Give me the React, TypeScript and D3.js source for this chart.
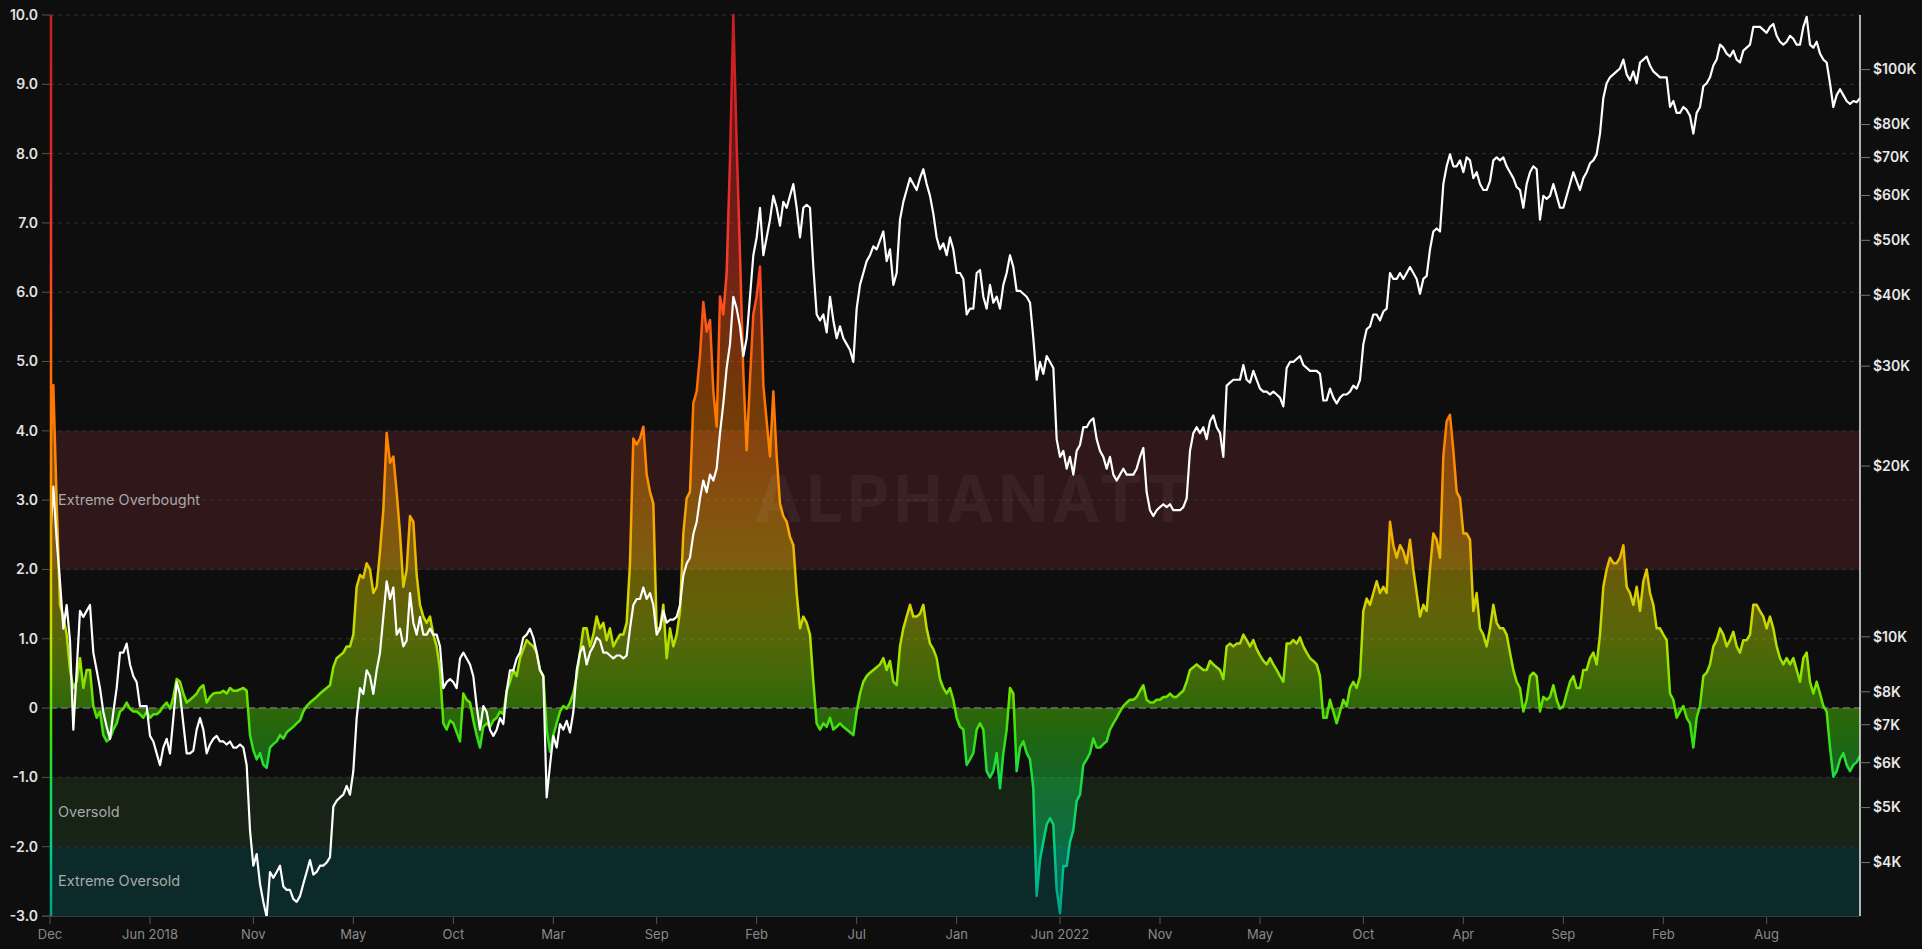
import React from 'react';
import * as d3 from 'd3';

// ---- Data (sampled at equal spacing along the category axis) ----
const oscillator: number[] = [
  3.54, 4.66, 2.95, 1.49, 1.32, 1.06, 0.55, 0.29, 0.38, 0.72,
  0.29, 0.55, 0.55, 0.03, -0.14, -0.05, -0.39, -0.48, -0.44, -0.31,
  -0.22, -0.05, -0.01, 0.08, -0.01, -0.05, -0.05, -0.09, -0.14, -0.05,
  -0.14, -0.09, -0.09, -0.05, 0.03, 0.08, -0.01, 0.16, 0.42, 0.38,
  0.21, 0.08, 0.12, 0.16, 0.21, 0.29, 0.33, 0.08, 0.16, 0.21,
  0.22, 0.22, 0.25, 0.21, 0.29, 0.25, 0.25, 0.27, 0.29, 0.25,
  -0.39, -0.61, -0.74, -0.65, -0.82, -0.86, -0.57, -0.52, -0.48, -0.39,
  -0.44, -0.35, -0.31, -0.27, -0.22, -0.18, -0.05, 0.03, 0.08, 0.12,
  0.16, 0.21, 0.25, 0.29, 0.33, 0.59, 0.72, 0.76, 0.80, 0.89,
  0.89, 1.06, 1.75, 1.92, 1.88, 2.09, 2.00, 1.66, 1.75, 2.26,
  2.86, 3.97, 3.54, 3.63, 3.12, 2.52, 1.75, 2.00, 2.77, 2.69,
  1.92, 1.49, 1.32, 1.23, 1.32, 1.06, 0.89, 0.55, -0.22, -0.31,
  -0.18, -0.22, -0.35, -0.48, 0.21, 0.12, 0.08, -0.18, -0.39, -0.57,
  -0.27, -0.22, -0.27, -0.18, -0.14,
  -0.05, -0.09, 0.25, 0.38, 0.55, 0.46, 0.72, 0.85, 0.98, 0.93,
  0.89, 0.80, 0.55, 0.46, -0.31, -0.63, -0.39, -0.22, -0.05, 0.03,
  -0.01, 0.08, 0.21, 0.46, 0.80, 1.15, 1.15, 0.89, 1.06, 1.32,
  1.15, 1.23, 0.98, 1.15, 0.89, 0.98, 1.06, 1.06, 1.23, 2.09,
  3.89, 3.80, 3.89, 4.06, 3.37, 3.12, 2.95, 1.15, 1.15, 1.49,
  0.72, 1.15, 0.89, 1.06, 1.40, 2.52, 3.03, 3.12, 4.40, 4.57,
  5.09, 5.86, 5.43, 5.60, 4.57, 4.06, 5.94, 5.68, 6.28, 7.91,
  10.0, 8.12, 6.54, 4.83, 3.72, 4.74, 5.68, 5.94, 6.37, 4.66,
  4.14, 3.63, 4.57, 3.63, 2.95, 2.77, 2.69, 2.47, 2.35, 1.66,
  1.15, 1.32, 1.23, 1.06, 0.38, -0.22, -0.31, -0.22, -0.27, -0.14,
  -0.31, -0.27, -0.22, -0.27, -0.31, -0.35, -0.39, -0.05, 0.21, 0.38,
  0.46, 0.51, 0.55, 0.59, 0.63, 0.72, 0.55, 0.68, 0.38, 0.33,
  0.89, 1.15, 1.32, 1.49, 1.32, 1.32, 1.36, 1.49, 1.15, 0.93,
  0.85, 0.72, 0.42, 0.29, 0.21, 0.29, 0.12, -0.14,
  -0.27, -0.31, -0.82, -0.74, -0.65, -0.31, -0.22, -0.31, -0.91, -1.00,
  -0.91, -0.65, -1.16, -0.65, -0.31, 0.29, 0.21, -0.91, -0.57, -0.48,
  -0.65, -0.74, -1.16, -2.71, -2.19, -1.93, -1.68, -1.59, -1.68, -2.62,
  -2.96, -2.28, -2.28, -1.93, -1.76, -1.34, -1.25, -0.82, -0.74, -0.65,
  -0.44, -0.57, -0.57, -0.52, -0.48, -0.31, -0.22, -0.14, -0.05, 0.03,
  0.08, 0.12, 0.12, 0.16, 0.25, 0.33, 0.12, 0.08, 0.08, 0.12,
  0.12, 0.16, 0.16, 0.21, 0.16, 0.16, 0.21, 0.25, 0.38, 0.55,
  0.59, 0.63, 0.59, 0.55, 0.55, 0.68, 0.63, 0.59, 0.55, 0.42,
  0.89, 0.93, 0.89, 0.93, 0.93, 1.06, 0.98, 0.89, 0.98, 0.85,
  0.76, 0.68, 0.63, 0.72, 0.63, 0.55, 0.46, 0.38, 0.93, 0.93,
  0.98, 0.93, 1.02, 0.89, 0.80, 0.72, 0.68, 0.63, 0.46, -0.14,
  -0.14, 0.12, -0.05, -0.22, -0.05, 0.12, 0.03, 0.29, 0.38, 0.29,
  0.46, 1.40, 1.58, 1.49, 1.66, 1.83, 1.66, 1.75, 1.66, 2.69,
  2.35, 2.17, 2.35, 2.26, 2.09, 2.43, 2.00, 1.66,
  1.32, 1.49, 1.40, 2.00, 2.52, 2.43, 2.17, 3.63, 4.14, 4.23,
  3.72, 3.12, 3.03, 2.52, 2.52, 2.43, 1.40, 1.66, 1.15, 1.06,
  0.89, 1.15, 1.49, 1.23, 1.15, 1.15, 1.06, 0.80, 0.55, 0.38,
  0.29, -0.05, 0.12, 0.46, 0.51, 0.46, -0.05, 0.16, 0.12, 0.16,
  0.33, 0.12, -0.01, 0.03, 0.21, 0.38, 0.46, 0.29, 0.29, 0.55,
  0.55, 0.72, 0.80, 0.63, 1.06, 1.75, 2.00, 2.17, 2.09, 2.09,
  2.17, 2.35, 1.75, 1.66, 1.49, 1.75, 1.40, 1.83, 2.00, 1.66,
  1.49, 1.15, 1.15, 1.06, 0.98, 0.21, 0.12, -0.14, -0.05, 0.03,
  -0.14, -0.22, -0.57, -0.14, 0.03, 0.46, 0.51, 0.63, 0.89, 0.98,
  1.15, 1.06, 0.89, 0.98, 1.10, 0.89, 0.80, 0.98, 0.98, 1.06,
  1.49, 1.49, 1.40, 1.32, 1.15, 1.32, 1.15, 0.89, 0.72, 0.63,
  0.72, 0.63, 0.72, 0.55, 0.38, 0.72, 0.80, 0.38, 0.21, 0.38,
  0.21, 0.03, -0.05, -0.57, -0.99, -0.91, -0.74, -0.65, -0.82, -0.91,
  -0.82, -0.78, -0.69,
];

const btcPrice: number[] = [
  14820, 18410, 14820, 12520, 10340, 11380, 9850, 6860, 8730, 11110,
  10840, 11110, 11380, 9380, 8730, 8120, 7370, 6940, 6610, 7370,
  8120, 9380, 9380, 9730, 8940, 8520, 8320, 7550, 7550, 7550,
  6690, 6540, 6230, 5940, 6380, 6610, 6230, 7190, 8320, 7930,
  7020, 6230, 6230, 6300, 6860, 7190, 6860, 6230, 6460, 6610,
  6690, 6540, 6540, 6460, 6540, 6380, 6380, 6460, 6380, 5940,
  4560, 3950, 4140, 3670, 3410, 3210, 3850, 3760, 3850, 3950,
  3630, 3580, 3580, 3450, 3410, 3490, 3670, 3850, 4040, 3810,
  3850, 3950, 3950, 4000, 4090, 5020, 5140, 5210, 5270, 5460,
  5270, 5800, 7190, 8120, 7930, 8730, 8520, 7930, 8730, 9380,
  10840, 12520, 11660, 12220, 10090, 10340, 9620, 9850, 11940, 10590,
  10090, 10840, 10090, 10090, 10340, 10090, 10090, 9620, 8120, 8320,
  8420, 8320, 8120, 9160, 9380, 9160, 8940, 8520, 7550, 6860,
  7550, 7370, 6860, 6690, 6860,
  7190, 7020, 8020, 8730, 8730, 9160, 9380, 9970, 10090, 10340,
  9970, 9380, 8730, 8520, 5210, 5940, 6690, 6380, 7020, 6860,
  7110, 6780, 7370, 8730, 9380, 9620, 8940, 9380, 9620, 9970,
  9850, 9380, 9380, 9270, 9160, 9270, 9270, 9160, 9270, 10340,
  11380, 11660, 11660, 12220, 11660, 11940, 11380, 10090, 10340, 11110,
  10590, 10720, 10720, 10840, 11380, 12830, 13460, 13790, 15180, 15940,
  17550, 18860, 17980, 19320, 18860, 19790, 22860, 25790, 29790, 32810,
  39770, 37900, 35260, 31260, 33610, 39770, 47070, 50590, 57070, 47070,
  50590, 54390, 59880, 57070, 53090, 58450, 57070, 59880, 62830, 57070,
  50590, 57070, 57760, 57070, 44860, 37000, 36120, 37000, 34420, 39770,
  36120, 33610, 35260, 33610, 32810, 32030, 30520, 37900, 41730, 43790,
  45950, 47070, 48790, 48210, 49990, 51830, 45950, 48210, 41730, 43790,
  54390, 58450, 61330, 64360, 62830, 61330, 64360, 66730, 62830, 59880,
  55710, 50590, 48210, 49390, 47070, 50590, 48210, 43790,
  43790, 42750, 37000, 37900, 37900, 43790, 44330, 39770, 37900, 41730,
  38820, 39770, 37900, 41730, 43790, 47070, 44860, 40740, 40740, 40250,
  39770, 38820, 33610, 28390, 30520, 29080, 31260, 30520, 29790, 22310,
  20760, 21270, 19790, 20760, 19320, 21270, 21790, 23420, 23420, 23990,
  24280, 22310, 21270, 20760, 19790, 20760, 19320, 18860, 19320, 19790,
  19320, 19320, 19320, 19790, 20760, 21530, 17980, 16720, 16330, 16720,
  16930, 17130, 16930, 17130, 16720, 16720, 16720, 16930, 17550, 21270,
  22860, 23420, 22860, 23420, 22310, 23990, 24570, 23420, 22860, 20760,
  27720, 28060, 28390, 28390, 28390, 30150, 28390, 28060, 29440, 28390,
  27390, 27060, 27060, 26740, 27060, 26740, 26410, 25480, 29790, 30520,
  30520, 30890, 31260, 30150, 29790, 29440, 29440, 29440, 29080, 26100,
  26100, 27390, 26410, 25790, 26410, 26740, 26740, 27060, 27720, 27390,
  28390, 32810, 34850, 35260, 37000, 37000, 36120, 37450, 37900, 43790,
  42750, 42750, 43790, 42750, 43790, 44860, 43790, 42750,
  40250, 42750, 43270, 48210, 51830, 52460, 51830, 62830, 67530, 70870,
  67530, 67530, 69180, 65930, 70020, 69180, 64360, 65930, 62830, 61330,
  61330, 63590, 69180, 70020, 69180, 70020, 67530, 65930, 64360, 62080,
  61330, 57070, 62830, 65930, 67530, 66730, 54390, 59880, 59170, 59880,
  62830, 59880, 57070, 57070, 59880, 62830, 65930, 63590, 61330, 64360,
  65930, 68360, 69180, 70870, 77100, 89080, 94590, 96900, 98080, 99250,
  100450, 104150, 98080, 95750, 99250, 94590, 102910, 104150, 105430, 101670,
  99250, 98080, 96900, 96900, 96900, 85910, 88010, 83870, 83870, 85910,
  84890, 82870, 77100, 83870, 85910, 93470, 94590, 96900, 101670, 104150,
  110640, 109300, 106700, 105430, 108000, 104150, 102910, 108000, 109300, 110640,
  118920, 118920, 118920, 117490, 116100, 118920, 120340, 114690, 111960, 110640,
  111960, 114690, 113330, 110640, 110640, 118920, 123870, 110640, 109300, 111960,
  106700, 104150, 102910, 94590, 85910, 90150, 92350, 90150, 88010, 86970,
  88010, 87590, 89080,
];

const xTickIndex: number[] = [0, 30, 61, 91, 121, 151, 182, 212, 242, 272, 303, 333, 363, 394, 424, 454, 484, 515];
const xTickLabels: string[] = ['Dec', 'Jun 2018', 'Nov', 'May', 'Oct', 'Mar', 'Sep', 'Feb', 'Jul', 'Jan', 'Jun 2022', 'Nov', 'May', 'Oct', 'Apr', 'Sep', 'Feb', 'Aug'];
const yTicks: number[] = [10, 9, 8, 7, 6, 5, 4, 3, 2, 1, 0, -1, -2, -3];
const priceTicks: number[] = [4000, 5000, 6000, 7000, 8000, 10000, 20000, 30000, 40000, 50000, 60000, 70000, 80000, 100000];
const priceTickLabels: string[] = ['$4K', '$5K', '$6K', '$7K', '$8K', '$10K', '$20K', '$30K', '$40K', '$50K', '$60K', '$70K', '$80K', '$100K'];
const bandFrom: number[] = [4, -1, -2];
const bandTo: number[] = [2, -2, -3];
const bandLabels: string[] = ['Extreme Overbought', 'Oversold', 'Extreme Oversold'];
const bandColors: string[] = ['#301719', '#162315', '#0c2a2a'];
const oscDomain: [number, number] = [-3, 10];
const priceDomain: [number, number] = [3220, 124800];
const gradientValues: number[] = [10, 8, 6.5, 5.5, 4.5, 3.5, 2.5, 1.5, 1, 0.5, 0, -0.5, -1, -2, -3];
const gradientColors: string[] = ['#c41f1f', '#e02626', '#fb3a28', '#ff5a14', '#ff7300', '#ff8c00', '#f2b000', '#d6d400', '#b8e000', '#8ee600', '#5ae400', '#33e01a', '#1cdc48', '#00cf86', '#00a08a'];

const W = 1922;
const H = 949;
const left = 50;
const right = 1860;
const top = 15;
const bottom = 916;
const FONT = 'Inter, "Noto Sans", sans-serif';

export default function App() {
  const n = oscillator.length;
  const x = d3.scaleLinear().domain([0, n - 1]).range([left, right]);
  const y = d3.scaleLinear().domain(oscDomain).range([bottom, top]);
  const yp = d3.scaleLog().domain(priceDomain).range([bottom, top]);

  const line = d3.line<number>().x((_, i) => x(i)).y((d) => y(d));
  const area = d3.area<number>().x((_, i) => x(i)).y0(y(0)).y1((d) => y(d));
  const priceLine = d3.line<number>().x((_, i) => x(i)).y((d) => yp(d));

  const stopOffset = (v: number) => (oscDomain[1] - v) / (oscDomain[1] - oscDomain[0]);

  return (
    <div style={{ position: 'fixed', left: 0, top: 0, width: W, height: H, background: '#0e0e0e' }}>
      <svg width={W} height={H} style={{ display: 'block', fontFamily: FONT }}>
        <defs>
          <linearGradient id="oscGrad" gradientUnits="userSpaceOnUse" x1={0} x2={0} y1={y(oscDomain[1])} y2={y(oscDomain[0])}>
            {gradientValues.map((v, i) => (
              <stop key={i} offset={stopOffset(v)} stopColor={gradientColors[i]} />
            ))}
          </linearGradient>
          <clipPath id="plotClip">
            <rect x={left} y={top - 2} width={right - left} height={bottom - top + 2} />
          </clipPath>
        </defs>

        <rect x={0} y={0} width={W} height={H} fill="#0e0e0e" />

        {/* bands */}
        {bandLabels.map((lab, i) => (
          <rect key={lab} x={left} y={y(bandFrom[i])} width={right - left} height={y(bandTo[i]) - y(bandFrom[i])} fill={bandColors[i]} />
        ))}

        {/* grid */}
        {yTicks.filter((v) => v !== 0 && v !== oscDomain[0]).map((v) => (
          <line key={v} x1={left} x2={right} y1={y(v)} y2={y(v)} stroke="#333" strokeWidth={1} strokeDasharray="4,4" />
        ))}

        {/* band labels */}
        {bandLabels.map((lab, i) => (
          <text key={lab} x={left + 8} y={y((bandFrom[i] + bandTo[i]) / 2)} dy="0.35em" fill="#a9a9a9" fontSize={14.5}>
            {lab}
          </text>
        ))}

        {/* oscillator area */}
        <g clipPath="url(#plotClip)">
          <path d={area(oscillator) || ''} fill="url(#oscGrad)" fillOpacity={0.42} />
        </g>

        <line x1={left} x2={right} y1={y(0)} y2={y(0)} stroke="#707070" strokeWidth={1.5} strokeDasharray="7,4" />

        <text x={754} y={522} fill="#ffffff" fillOpacity={0.05} fontSize={65} fontWeight={700} letterSpacing={4}>
          ALPHANATT
        </text>

        <g clipPath="url(#plotClip)">
          <path d={line(oscillator) || ''} fill="none" stroke="url(#oscGrad)" strokeWidth={2.5} strokeLinejoin="round" />
          <path d={priceLine(btcPrice) || ''} fill="none" stroke="#ffffff" strokeWidth={2.2} strokeLinejoin="round" />
        </g>

        {/* left gradient edge line */}
        <line x1={left + 1} x2={left + 1} y1={y(oscDomain[1])} y2={y(oscDomain[0])} stroke="url(#oscGrad)" strokeWidth={2.5} />

        {/* bottom axis */}
        <line x1={left - 8} x2={right} y1={bottom + 0.5} y2={bottom + 0.5} stroke="#3c3c3c" strokeWidth={1} />
        {xTickIndex.map((idx, i) => (
          <g key={i} transform={`translate(${x(idx)},${bottom})`}>
            <line y1={1} y2={8} stroke="#555" />
            <text y={18} dy="0.35em" textAnchor="middle" fill="#8a8a8a" fontSize={13}>
              {xTickLabels[i]}
            </text>
          </g>
        ))}

        {/* left axis */}
        {yTicks.map((v) => (
          <g key={v} transform={`translate(${left},${y(v)})`}>
            <line x1={-8} x2={0} stroke="#555" />
            <text x={-12} dy="0.35em" textAnchor="end" fill="#e2e2e2" fontSize={14} fontWeight={600}>
              {v === 0 ? '0' : v.toFixed(1)}
            </text>
          </g>
        ))}

        {/* right axis */}
        <line x1={right} x2={right} y1={top} y2={bottom} stroke="#e8e8e8" strokeWidth={1.5} />
        {priceTicks.map((p, i) => (
          <g key={p} transform={`translate(${right},${yp(p)})`}>
            <line x1={0} x2={10} stroke="#777" />
            <text x={13} dy="0.35em" fill="#e8e8e8" fontSize={14} fontWeight={600}>
              {priceTickLabels[i]}
            </text>
          </g>
        ))}
      </svg>
    </div>
  );
}
